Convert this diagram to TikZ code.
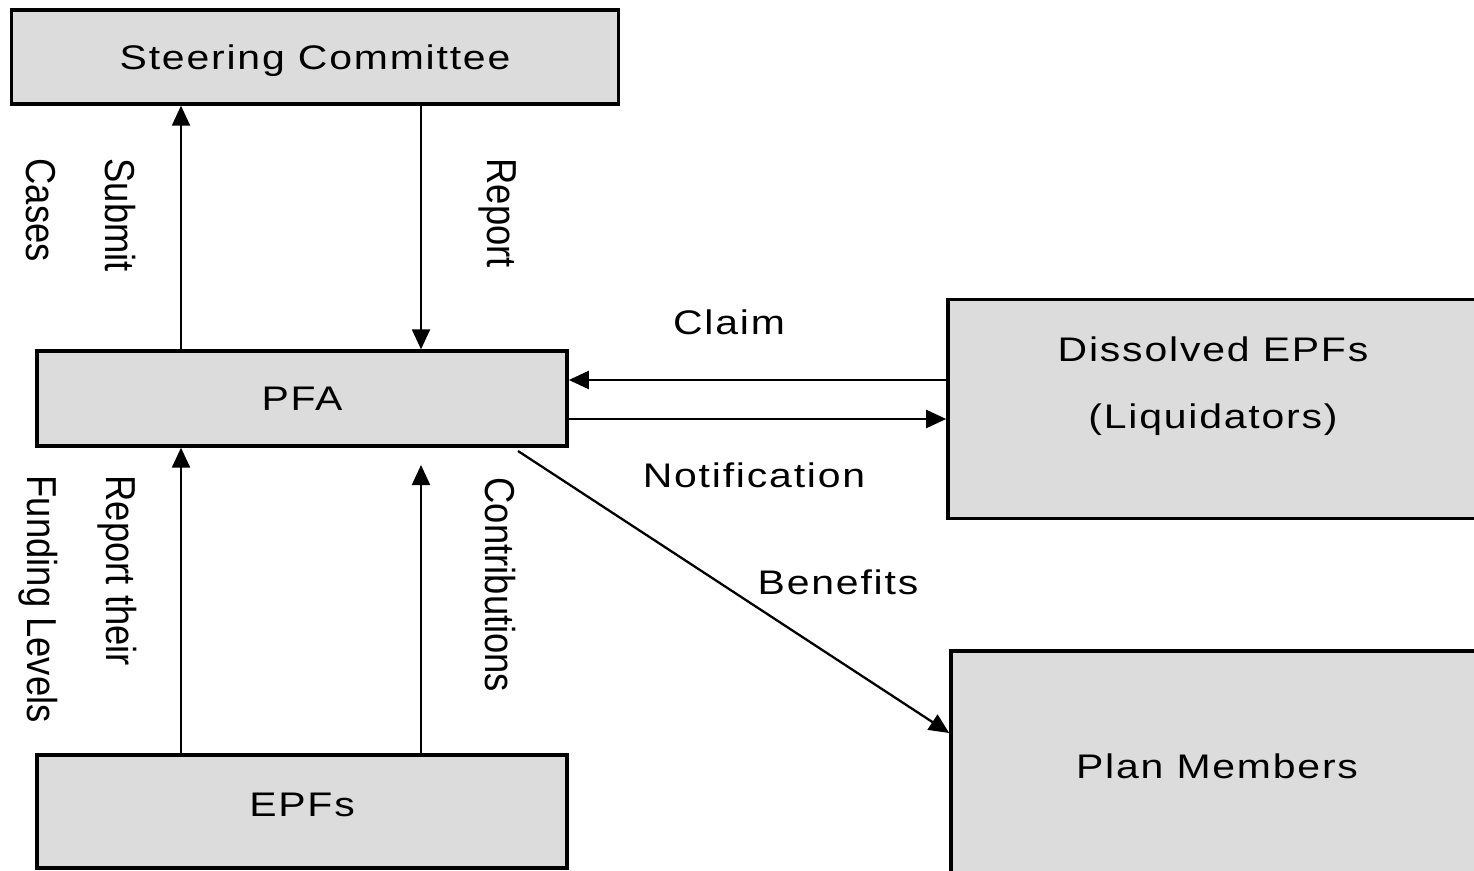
\documentclass[tikz,border=0pt]{standalone}
\usepackage{fontspec}
\usetikzlibrary{arrows.meta}
\newfontfamily\boxfont{Liberation Sans}[FakeStretch=1.2,LetterSpace=5.3]
\newfontfamily\sidefont{Liberation Sans}[FakeStretch=0.87]
\definecolor{boxgray}{RGB}{220,220,220}

\begin{document}
\begin{tikzpicture}[x=0.01cm,y=-0.01cm,
	box/.style={draw=black,line width=0.95pt,fill=boxgray,inner sep=0pt,font=\boxfont\fontsize{9.7}{19}\selectfont,text height=6.9pt,text depth=0pt},
	tag/.style={inner sep=0pt,font=\boxfont\fontsize{9.7}{19}\selectfont,text height=6.9pt,text depth=0pt},
	side/.style={inner sep=0pt,rotate=-90,align=left,anchor=north west,font=\sidefont\fontsize{11.9}{22.7}\selectfont},
	flow/.style={line width=0.65pt,-{Triangle[length=2mm,width=1.8mm]}}]
			\useasboundingbox (0,0) rectangle (1474,870);
			\clip (0,0) rectangle (1474,870);
			\node[box,minimum width=6.06cm,minimum height=0.94cm] (sc) at (315,57) {Steering Committee};
			\node[box,minimum width=5.30cm,minimum height=0.95cm] (pfa) at (302,398.5) {PFA};
			\node[box,minimum width=5.30cm,minimum height=1.13cm,text depth=4.25pt] (epf) at (302,811.5) {EPFs};
			\node[box,minimum width=5.30cm,minimum height=2.19cm] (dis) at (1213,409) {};
			\node[inner sep=0pt,align=center,anchor=north,font=\boxfont\fontsize{9.7}{19}\selectfont] (distext) at (1213,336) {Dissolved EPFs\\(Liquidators)};
			\node[box,minimum width=5.32cm,minimum height=2.30cm] (pm) at (1217,766) {Plan Members};
			\coordinate (upx) at (181,0);
			\coordinate (dnx) at (421,0);
			\coordinate (claimy) at (0,380);
			\coordinate (notey) at (0,419);
			\coordinate (beny) at (0,733);
			\coordinate (bstart) at (518,451);
			\coordinate (ctop) at (421,465);
			\draw[flow] (pfa.north -| upx) -- (sc.south -| upx);
			\draw[flow] (sc.south -| dnx) -- (pfa.north -| dnx);
			\draw[flow] (epf.north -| upx) -- (pfa.south -| upx);
			\draw[flow] (epf.north -| dnx) -- (ctop);
			\draw[flow] (dis.west |- claimy) -- (pfa.east |- claimy);
			\draw[flow] (pfa.east |- notey) -- (dis.west |- notey);
			\draw[flow] (bstart) -- (pm.west |- beny);
			\node[side] (submit) at (137,158) {Submit\\Cases};
			\node[side] (report) at (517,158) {Report};
			\node[side] (reptheir) at (138,475) {Report their\\Funding Levels};
			\node[side] (contrib) at (517,477) {Contributions};
			\node[tag] (claim) at (729,322) {Claim};
			\node[tag] (notif) at (754,475) {Notification};
			\node[tag] (benef) at (838,582) {Benefits};
\end{tikzpicture}
\end{document}
